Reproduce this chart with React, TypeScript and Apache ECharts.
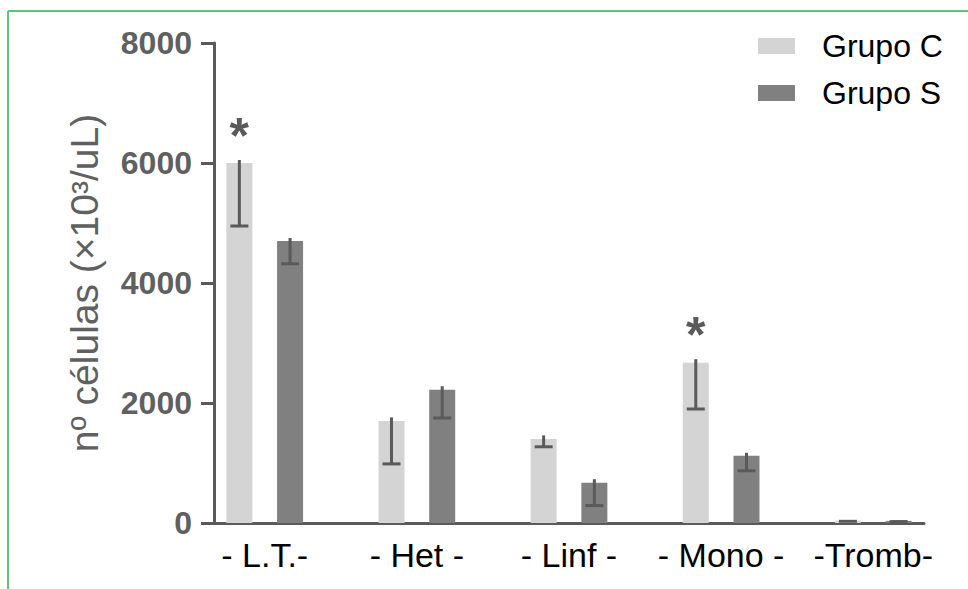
import React, { useEffect, useRef } from "react";
import * as echarts from "echarts";

const categories = ["- L.T.-", "- Het -", "- Linf -", "- Mono -", "-Tromb-"];
const seriesNames = ["Grupo C", "Grupo S"];
const grupoC = [6000, 1700, 1400, 2670, 40];
const grupoS = [4700, 2220, 670, 1120, 35];
const grupoCLow = [4950, 985, 1270, 1900, 28];
const grupoCHigh = [6050, 1760, 1460, 2730, 48];
const grupoSLow = [4320, 1750, 290, 870, 24];
const grupoSHigh = [4750, 2280, 730, 1170, 42];
const significantC = [1, 0, 0, 1, 0];
const significantS = [0, 0, 0, 0, 0];
const yMin = 0;
const yMax = 8000;
const yInterval = 2000;

const FONT = "Liberation Sans, Arial, Helvetica, sans-serif";
const AXIS = "#5a5a5a";
const LABEL = "#606060";
const LIGHT = "#d4d4d4";
const DARK = "#808080";

export default function App() {
  const ref = useRef<HTMLDivElement>(null);
  useEffect(() => {
    if (!ref.current) return;
    const chart = echarts.init(ref.current, undefined, { renderer: "svg" });
    const n = categories.length;
    const slotCount = 3 * n - 1;
    const slots = Array.from({ length: slotCount }, (_, i) => "s" + i);
    const cData: (number | null)[] = new Array(slotCount).fill(null);
    const sData: (number | null)[] = new Array(slotCount).fill(null);
    const errC: number[][] = [];
    const errS: number[][] = [];
    for (let i = 0; i < n; i++) {
      cData[3 * i] = grupoC[i];
      sData[3 * i + 1] = grupoS[i];
      errC.push([3 * i, grupoCLow[i], grupoCHigh[i], significantC[i]]);
      errS.push([3 * i + 1, grupoSLow[i], grupoSHigh[i], significantS[i]]);
    }
    const renderErr = (params: any, api: any) => {
      const x = api.value(0);
      const lo = api.value(1);
      const hi = api.value(2);
      const sig = api.value(3);
      const pLo = api.coord([x, lo]);
      const pHi = api.coord([x, hi]);
      const children: any[] = [
        {
          type: "line",
          shape: { x1: pLo[0], y1: pLo[1], x2: pHi[0], y2: pHi[1] },
          style: { stroke: AXIS, lineWidth: 3 },
        },
        {
          type: "line",
          shape: { x1: pLo[0] - 9, y1: pLo[1], x2: pLo[0] + 9, y2: pLo[1] },
          style: { stroke: AXIS, lineWidth: 3 },
        },
      ];
      if (sig) {
        children.push({
          type: "text",
          x: pHi[0],
          y: pHi[1] - 24,
          style: {
            text: "*",
            fill: AXIS,
            font: "bold 50px " + FONT,
            align: "center",
            verticalAlign: "middle",
          },
        });
      }
      return { type: "group", children };
    };
    chart.setOption({
      animation: false,
      backgroundColor: "#ffffff",
      grid: { left: 214, right: 44, top: 43, bottom: 66, containLabel: false },
      legend: {
        orient: "vertical",
        left: 753,
        top: 25,
        itemWidth: 37,
        itemHeight: 16,
        itemGap: 15,
        icon: "rect",
        data: seriesNames,
        textStyle: {
          fontSize: 32,
          lineHeight: 32,
          color: "#000",
          fontFamily: FONT,
          padding: [0, 0, 0, 22],
        },
      },
      xAxis: [
        {
          type: "category",
          data: slots,
          boundaryGap: true,
          axisLine: { lineStyle: { color: AXIS, width: 3 } },
          axisTick: {
            alignWithLabel: true,
            interval: 0,
            length: 14,
            lineStyle: { color: AXIS, width: 3 },
          },
          axisLabel: { show: false },
          splitLine: { show: false },
        },
        {
          type: "value",
          position: "bottom",
          min: 0,
          max: slotCount,
          interval: 1,
          axisLine: { show: false },
          axisTick: { show: false },
          splitLine: { show: false },
          axisLabel: {
            margin: 15,
            fontSize: 34,
            color: "#000",
            fontFamily: FONT,
            hideOverlap: false,
            formatter: (v: number) => {
              const k = (v - 1) / 3;
              return Number.isInteger(k) && k >= 0 && k < n ? categories[k] : "";
            },
          },
        },
      ],
      yAxis: {
        type: "value",
        min: yMin,
        max: yMax,
        interval: yInterval,
        name: "nº células (×10³/uL)",
        nameLocation: "middle",
        nameGap: 110,
        nameTextStyle: { fontSize: 39, color: LABEL, fontFamily: FONT },
        axisLine: { show: true, lineStyle: { color: AXIS, width: 3 } },
        axisTick: { show: true, length: 13, lineStyle: { color: AXIS, width: 3 } },
        axisLabel: {
          margin: 22,
          fontSize: 32,
          fontWeight: "bold",
          color: LABEL,
          fontFamily: FONT,
          formatter: (v: number) => String(v),
        },
        splitLine: { show: false },
      },
      graphic: [
        {
          type: "line",
          shape: { x1: 8, y1: 11, x2: 968, y2: 11 },
          style: { stroke: "#62c27a", lineWidth: 2 },
        },
        {
          type: "line",
          shape: { x1: 8, y1: 11, x2: 8, y2: 589 },
          style: { stroke: "#62c27a", lineWidth: 2 },
        },
      ],
      series: [
        {
          name: seriesNames[0],
          type: "bar",
          data: cData,
          barWidth: 26,
          barGap: "-100%",
          itemStyle: { color: LIGHT },
        },
        {
          name: seriesNames[1],
          type: "bar",
          data: sData,
          barWidth: 26,
          barGap: "-100%",
          itemStyle: { color: DARK },
        },
        {
          name: "errC",
          type: "custom",
          data: errC,
          encode: { x: 0, y: [1, 2] },
          renderItem: renderErr,
          z: 5,
        },
        {
          name: "errS",
          type: "custom",
          data: errS,
          encode: { x: 0, y: [1, 2] },
          renderItem: renderErr,
          z: 5,
        },
      ],
    });
    return () => chart.dispose();
  }, []);
  return (
    <div
      ref={ref}
      style={{ position: "fixed", left: 0, top: 0, width: 968, height: 589 }}
    />
  );
}
